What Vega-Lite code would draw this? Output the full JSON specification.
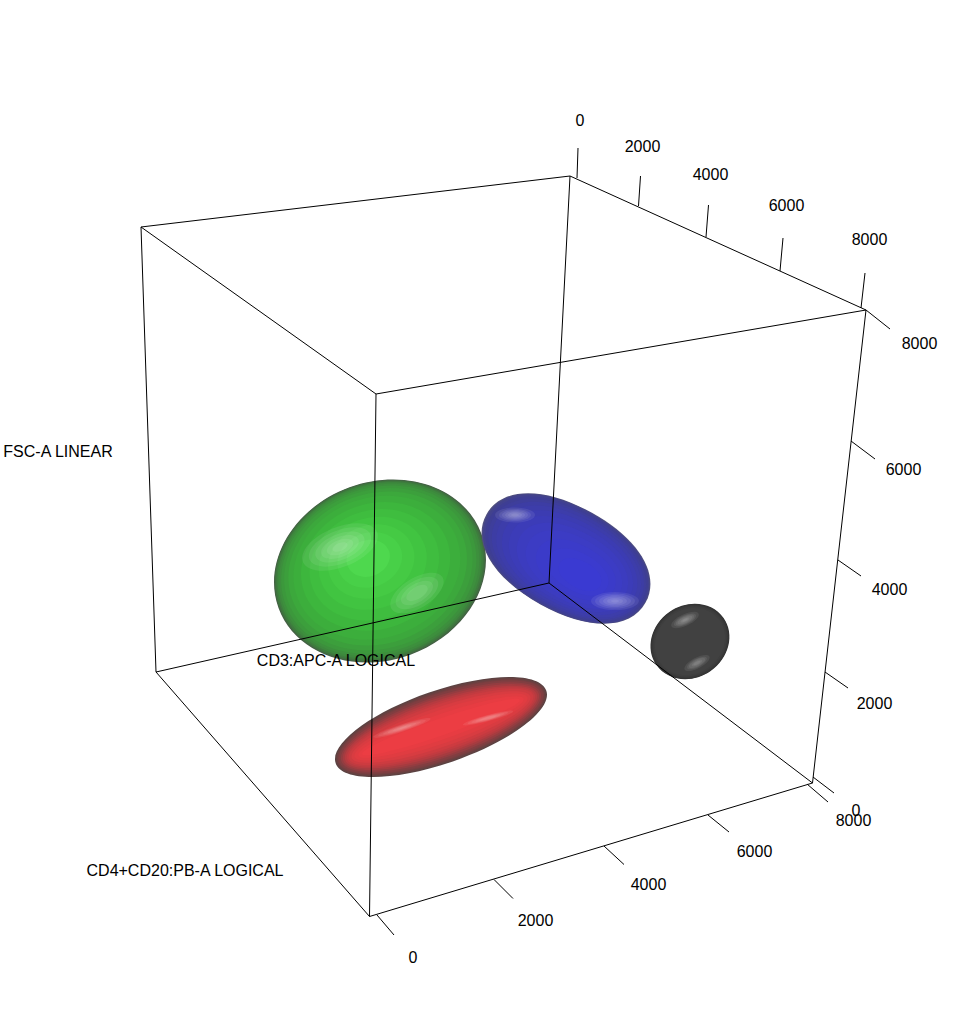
{
"$schema":"https://vega.github.io/schema/vega-lite/v6.json",
"autosize":{"type":"fit","contains":"padding"},
"width":960,"height":1016,"background":"white","padding":0,
"view":{"stroke":null},
"datasets":{
"green":[
{"x":380,"y":571,"semi":108},{"x":379.9,"y":570.9,"semi":107.3},{"x":379.8,"y":570.8,"semi":106.6},{"x":379.7,"y":570.6,"semi":105.5},{"x":379.5,"y":570.4,"semi":104},{"x":379.2,"y":570.1,"semi":102},{"x":378.8,"y":569.7,"semi":99.5},{"x":378.4,"y":569.2,"semi":96},{"x":377.7,"y":568.5,"semi":91},{"x":376.9,"y":567.6,"semi":85},{"x":375.6,"y":566.3,"semi":76},{"x":374.3,"y":564.8,"semi":66},{"x":372.8,"y":563.2,"semi":55},{"x":371.3,"y":561.5,"semi":44},{"x":369.8,"y":559.9,"semi":33},{"x":368.3,"y":558.3,"semi":22}
],
"blue":[
{"x":566,"y":558.5,"semi":91},{"x":566.2,"y":558.7,"semi":90},{"x":566.4,"y":559,"semi":89},{"x":566.7,"y":559.3,"semi":87.5},{"x":567.2,"y":559.9,"semi":85},{"x":567.9,"y":560.6,"semi":82},{"x":568.7,"y":561.6,"semi":78},{"x":569.7,"y":562.7,"semi":73},{"x":570.9,"y":564.1,"semi":67},{"x":572.4,"y":565.8,"semi":60},{"x":574,"y":567.7,"semi":52},{"x":575.9,"y":569.8,"semi":43},{"x":577.9,"y":572.1,"semi":33},{"x":580,"y":574.5,"semi":23}
],
"black":[
{"x":690,"y":641.5,"semi":41},{"x":690,"y":641.5,"semi":40.5},{"x":690,"y":641.5,"semi":40},{"x":690,"y":641.5,"semi":39},{"x":690,"y":641.5,"semi":38},{"x":690,"y":641.5,"semi":36.5}
],
"red":[
{"ring":"a","x":441,"y":727,"semi":111.4},{"ring":"b","x":441,"y":727,"semi":110.4},{"ring":"c","x":441,"y":727,"semi":109.4},{"ring":"d","x":441,"y":727,"semi":108.4},{"ring":"e","x":441,"y":727,"semi":107.4},{"ring":"f","x":441,"y":727,"semi":105.4},{"ring":"g","x":441,"y":727,"semi":103.4},{"ring":"h","x":441,"y":727,"semi":101.4},{"ring":"i","x":441,"y":727,"semi":99.4},{"ring":"j","x":441,"y":727,"semi":97.4},{"ring":"k","x":441,"y":727,"semi":94.4},{"ring":"l","x":441,"y":727,"semi":91.4},{"ring":"m","x":441,"y":727,"semi":87.4},{"ring":"n","x":441,"y":727,"semi":83.4}
],
"glints":[
{"part":"wide","x":340,"y":547,"semi":40,"angle":-22},{"part":"wide","x":340,"y":547,"semi":33,"angle":-22},{"part":"wide","x":340,"y":547,"semi":26,"angle":-22},{"part":"wide","x":340,"y":547,"semi":20,"angle":-22},{"part":"wide","x":340,"y":547,"semi":14,"angle":-22},{"part":"wide","x":340,"y":547,"semi":8,"angle":-22},
{"part":"wide","x":417,"y":593,"semi":30,"angle":-32},{"part":"wide","x":417,"y":593,"semi":24,"angle":-32},{"part":"wide","x":417,"y":593,"semi":18,"angle":-32},{"part":"wide","x":417,"y":593,"semi":12,"angle":-32},
{"part":"slim","x":515,"y":515,"semi":20,"angle":0},{"part":"slim","x":515,"y":515,"semi":16,"angle":0},{"part":"slim","x":515,"y":515,"semi":13,"angle":0},{"part":"slim","x":515,"y":515,"semi":10,"angle":0},{"part":"slim","x":515,"y":515,"semi":7,"angle":0},{"part":"slim","x":515,"y":515,"semi":4,"angle":0},
{"part":"slim","x":615,"y":601,"semi":24,"angle":0},{"part":"slim","x":615,"y":601,"semi":20,"angle":0},{"part":"slim","x":615,"y":601,"semi":16,"angle":0},{"part":"slim","x":615,"y":601,"semi":12,"angle":0},{"part":"slim","x":615,"y":601,"semi":8,"angle":0},{"part":"slim","x":615,"y":601,"semi":4,"angle":0},
{"part":"slim","x":685,"y":620,"semi":15,"angle":-25},{"part":"slim","x":685,"y":620,"semi":12,"angle":-25},{"part":"slim","x":685,"y":620,"semi":10,"angle":-25},{"part":"slim","x":685,"y":620,"semi":8,"angle":-25},{"part":"slim","x":685,"y":620,"semi":5,"angle":-25},{"part":"slim","x":685,"y":620,"semi":3,"angle":-25},
{"part":"slim","x":697,"y":663,"semi":14,"angle":-28},{"part":"slim","x":697,"y":663,"semi":11,"angle":-28},{"part":"slim","x":697,"y":663,"semi":9,"angle":-28},{"part":"slim","x":697,"y":663,"semi":6,"angle":-28},{"part":"slim","x":697,"y":663,"semi":4,"angle":-28},
{"part":"thin","x":402,"y":728,"semi":30,"angle":-18},{"part":"thin","x":402,"y":728,"semi":25,"angle":-18},{"part":"thin","x":402,"y":728,"semi":20,"angle":-18},{"part":"thin","x":402,"y":728,"semi":15,"angle":-18},{"part":"thin","x":402,"y":728,"semi":10,"angle":-18},{"part":"thin","x":402,"y":728,"semi":5,"angle":-18},
{"part":"thin","x":488,"y":718,"semi":26,"angle":-15},{"part":"thin","x":488,"y":718,"semi":21,"angle":-15},{"part":"thin","x":488,"y":718,"semi":17,"angle":-15},{"part":"thin","x":488,"y":718,"semi":13,"angle":-15},{"part":"thin","x":488,"y":718,"semi":9,"angle":-15}
],
"lines":[
{"x":141,"y":227,"x2":570,"y2":176},
{"x":570,"y":176,"x2":866,"y2":310},
{"x":866,"y":310,"x2":376,"y2":394},
{"x":376,"y":394,"x2":141,"y2":227},
{"x":156,"y":672,"x2":549,"y2":583},
{"x":549,"y":583,"x2":812.5,"y2":783},
{"x":812.5,"y":783,"x2":369.5,"y2":916.5},
{"x":369.5,"y":916.5,"x2":156,"y2":672},
{"x":141,"y":227,"x2":156,"y2":672},
{"x":570,"y":176,"x2":549,"y2":583},
{"x":866,"y":310,"x2":812.5,"y2":783},
{"x":376,"y":394,"x2":369.5,"y2":916.5},
{"x":578,"y":148,"x2":577,"y2":178},
{"x":640.5,"y":176,"x2":638.5,"y2":206},
{"x":708.5,"y":205,"x2":706,"y2":237},
{"x":783,"y":238,"x2":780,"y2":271},
{"x":865,"y":273,"x2":861,"y2":308},
{"x":866,"y":310,"x2":890,"y2":329},
{"x":851,"y":441,"x2":875,"y2":459},
{"x":838,"y":560,"x2":861,"y2":576},
{"x":825,"y":672,"x2":848,"y2":688},
{"x":813,"y":777,"x2":834,"y2":793},
{"x":377,"y":915,"x2":394,"y2":935},
{"x":494,"y":879.5,"x2":513,"y2":898.5},
{"x":604,"y":846,"x2":624,"y2":864.5},
{"x":708,"y":815,"x2":729,"y2":832},
{"x":807,"y":784,"x2":828,"y2":802}
],
"labels":[
{"x":58,"y":452,"text":"FSC-A LINEAR"},
{"x":336,"y":661,"text":"CD3:APC-A LOGICAL"},
{"x":185,"y":871,"text":"CD4+CD20:PB-A LOGICAL"},
{"x":580,"y":121,"text":"0"},
{"x":642.5,"y":147,"text":"2000"},
{"x":710.5,"y":175,"text":"4000"},
{"x":786.5,"y":206,"text":"6000"},
{"x":869.5,"y":240,"text":"8000"},
{"x":919.5,"y":344,"text":"8000"},
{"x":903.5,"y":470,"text":"6000"},
{"x":889.5,"y":590,"text":"4000"},
{"x":874.5,"y":704,"text":"2000"},
{"x":856,"y":811,"text":"0"},
{"x":413,"y":958,"text":"0"},
{"x":535.5,"y":921,"text":"2000"},
{"x":648.5,"y":885,"text":"4000"},
{"x":754.5,"y":852,"text":"6000"},
{"x":853.5,"y":821,"text":"8000"}
]
},
"encoding":{
"x":{"field":"x","type":"quantitative","scale":{"domain":[0,960],"nice":false,"zero":false},"axis":null},
"y":{"field":"y","type":"quantitative","scale":{"domain":[0,1016],"reverse":true,"nice":false,"zero":false},"axis":null}
},
"layer":[
{"data":{"name":"green"},
"mark":{"type":"point","filled":true,"opacity":1,"strokeWidth":0,"angle":-20,"shape":"M-1,0 A1,0.824 0 1,1 1,0 A1,0.824 0 1,1 -1,0 Z"},
"encoding":{
"size":{"field":"semi","type":"quantitative","legend":null,"scale":{"type":"pow","exponent":2,"domain":[0,100],"range":[0,40000]}},
"fill":{"field":"semi","type":"quantitative","legend":null,"scale":{"domain":[22,33,55,76,91,99.5,104,106.6,108],"range":["#4ed84e","#48d048","#41c441","#3db63d","#3ca83c","#3c983c","#3d883d","#3f733f","#465e46"]}}
}},
{"data":{"name":"blue"},
"mark":{"type":"point","filled":true,"opacity":1,"strokeWidth":0,"angle":29,"shape":"M-1,0 C-1,-0.346 -0.6,-0.578 0,-0.578 C0.6,-0.578 1,-0.346 1,0 C1,0.346 0.6,0.578 0,0.578 C-0.6,0.578 -1,0.346 -1,0 Z"},
"encoding":{
"size":{"field":"semi","type":"quantitative","legend":null,"scale":{"type":"pow","exponent":2,"domain":[0,100],"range":[0,40000]}},
"fill":{"field":"semi","type":"quantitative","legend":null,"scale":{"domain":[23,43,60,73,82,87.5,90,91],"range":["#3a3ad2","#3b3bc9","#3c3cbf","#3c3cb2","#3d3da4","#3e3e94","#44448a","#50507f"]}}
}},
{"data":{"name":"black"},
"mark":{"type":"point","filled":true,"opacity":1,"strokeWidth":0,"angle":-35,"shape":"M-1,0 A1,0.878 0 1,1 1,0 A1,0.878 0 1,1 -1,0 Z"},
"encoding":{
"size":{"field":"semi","type":"quantitative","legend":null,"scale":{"type":"pow","exponent":2,"domain":[0,100],"range":[0,40000]}},
"fill":{"field":"semi","type":"quantitative","legend":null,"scale":{"domain":[36.5,38,39.5,41],"range":["#414141","#3e3e3e","#393939","#333333"]}}
}},
{"data":{"name":"red"},
"mark":{"type":"point","filled":true,"opacity":1,"strokeWidth":0,"angle":-19},
"encoding":{
"shape":{"field":"ring","type":"nominal","legend":null,"scale":{"domain":["a","b","c","d","e","f","g","h","i","j","k","l","m","n"],"range":[
"M-1,0 A1,0.327 0 1,1 1,0 A1,0.327 0 1,1 -1,0 Z",
"M-1,0 A1,0.321 0 1,1 1,0 A1,0.321 0 1,1 -1,0 Z",
"M-1,0 A1,0.314 0 1,1 1,0 A1,0.314 0 1,1 -1,0 Z",
"M-1,0 A1,0.308 0 1,1 1,0 A1,0.308 0 1,1 -1,0 Z",
"M-1,0 A1,0.302 0 1,1 1,0 A1,0.302 0 1,1 -1,0 Z",
"M-1,0 A1,0.289 0 1,1 1,0 A1,0.289 0 1,1 -1,0 Z",
"M-1,0 A1,0.275 0 1,1 1,0 A1,0.275 0 1,1 -1,0 Z",
"M-1,0 A1,0.26 0 1,1 1,0 A1,0.26 0 1,1 -1,0 Z",
"M-1,0 A1,0.246 0 1,1 1,0 A1,0.246 0 1,1 -1,0 Z",
"M-1,0 A1,0.23 0 1,1 1,0 A1,0.23 0 1,1 -1,0 Z",
"M-1,0 A1,0.207 0 1,1 1,0 A1,0.207 0 1,1 -1,0 Z",
"M-1,0 A1,0.18 0 1,1 1,0 A1,0.18 0 1,1 -1,0 Z",
"M-1,0 A1,0.142 0 1,1 1,0 A1,0.142 0 1,1 -1,0 Z",
"M-1,0 A1,0.1 0 1,1 1,0 A1,0.1 0 1,1 -1,0 Z"]}},
"size":{"field":"semi","type":"quantitative","legend":null,"scale":{"type":"pow","exponent":2,"domain":[0,100],"range":[0,40000]}},
"fill":{"field":"semi","type":"quantitative","legend":null,"scale":{"domain":[83.4,87.4,93.4,97.4,101.4,104.4,107.4,109.4,111.4],"range":["#ec3d43","#e73c42","#dc3c41","#cd3b40","#b63b40","#9c3c40","#813e41","#6e4041","#5b4343"]}}
}},
{"data":{"name":"glints"},
"mark":{"type":"point","filled":true,"opacity":0.08,"strokeWidth":0,"fill":"#ffffff"},
"encoding":{
"shape":{"field":"part","type":"nominal","legend":null,"scale":{"domain":["wide","slim","thin"],"range":[
"M-1,0 A1,0.5 0 1,1 1,0 A1,0.5 0 1,1 -1,0 Z",
"M-1,0 A1,0.38 0 1,1 1,0 A1,0.38 0 1,1 -1,0 Z",
"M-1,0 A1,0.12 0 1,1 1,0 A1,0.12 0 1,1 -1,0 Z"]}},
"size":{"field":"semi","type":"quantitative","legend":null,"scale":{"type":"pow","exponent":2,"domain":[0,100],"range":[0,40000]}},
"angle":{"field":"angle","type":"quantitative","scale":null}
}},
{"data":{"name":"lines"},
"mark":{"type":"rule","color":"#000000","strokeWidth":1},
"encoding":{"x2":{"field":"x2"},"y2":{"field":"y2"}}},
{"data":{"name":"labels"},
"mark":{"type":"text","font":"Liberation Sans","fontSize":16,"color":"#000000","align":"center","baseline":"middle"},
"encoding":{"text":{"field":"text","type":"nominal"}}}
],
"resolve":{"scale":{"fill":"independent","shape":"independent","size":"shared"}}
}
